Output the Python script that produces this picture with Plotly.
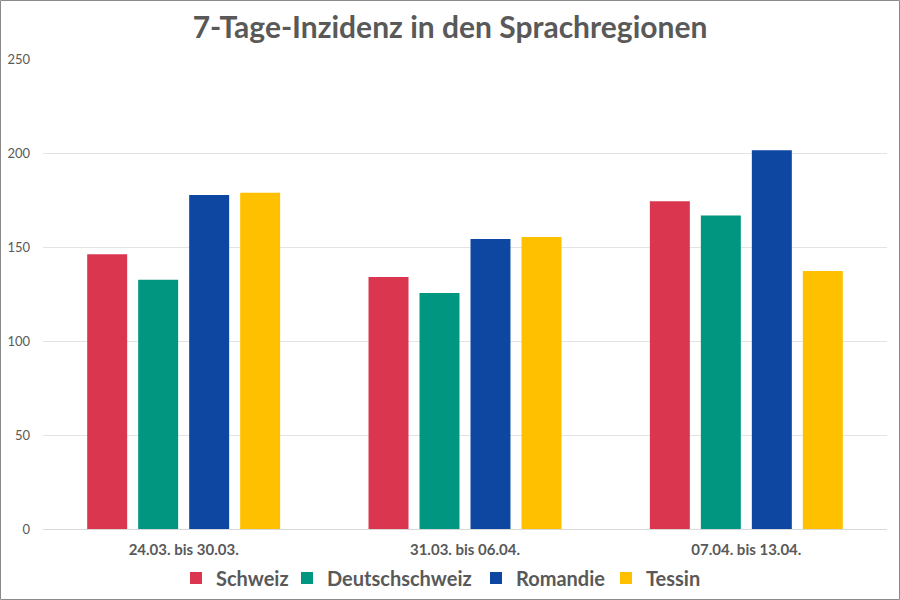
import plotly.graph_objects as go

categories = ["24.03. bis 30.03.", "31.03. bis 06.04.", "07.04. bis 13.04."]
series_names = ["Schweiz", "Deutschschweiz", "Romandie", "Tessin"]
schweiz = [146.1, 134.0, 174.4]
deutschschweiz = [132.6, 125.5, 166.8]
romandie = [177.6, 154.2, 201.4]
tessin = [178.9, 155.3, 137.2]
colors = ["#DA3650", "#00967F", "#0D47A1", "#FFC000"]
y_ticks = [0, 50, 100, 150, 200, 250]

W, H = 900, 600
ml, mr, mt, mb = 43, 13, 59, 71
pw, ph = W - ml - mr, H - mt - mb

legend_ids = ["legend", "legend2", "legend3", "legend4"]
legend_text_px = [216, 327, 516, 646]

fig = go.Figure()
for name, vals, col, lid in zip(series_names, [schweiz, deutschschweiz, romandie, tessin], colors, legend_ids):
    fig.add_trace(go.Bar(x=categories, y=vals, name=name, legend=lid,
                         marker=dict(color=col, line=dict(width=0))))

layout_legends = {}
for lid, tx in zip(legend_ids, legend_text_px):
    layout_legends[lid] = dict(
        orientation="h", x=(tx - 40 - ml) / pw, xanchor="left",
        y=-(578 - (H - mb)) / ph, yanchor="middle",
        font=dict(family="Lato", size=20, color="#595959", weight="bold"),
        bgcolor="rgba(0,0,0,0)", borderwidth=0,
    )

fig.update_layout(
    template="none",
    width=W, height=H,
    margin=dict(l=ml, r=mr, t=mt, b=mb, autoexpand=False),
    paper_bgcolor="white", plot_bgcolor="white",
    barmode="group", bargap=0.275, bargroupgap=0.216,
    title=dict(text="<b>7-Tage-Inzidenz in den Sprachregionen</b>", x=0.5, xanchor="center",
               y=1 - 27 / H, yanchor="middle",
               font=dict(family="Lato", size=30, color="#595959")),
    font=dict(family="Lato", color="#595959"),
    hovermode=False,
    xaxis=dict(range=[-0.5, 2.5], autorange=False, automargin=False,
               showgrid=False, showline=False, ticks="", zeroline=False,
               ticklabelstandoff=10, fixedrange=True,
               tickfont=dict(family="Lato", size=15, color="#595959", weight="bold")),
    yaxis=dict(range=[0, 250], autorange=False, automargin=False,
               tickvals=y_ticks, showgrid=True, gridcolor="#E3E3E3", gridwidth=1,
               zeroline=True, zerolinecolor="#D9D9D9", zerolinewidth=1, showline=False, ticks="",
               ticklabelstandoff=12, fixedrange=True,
               tickfont=dict(family="Lato", size=13, color="#595959")),
    showlegend=True,
    **layout_legends,
)

fig.add_shape(type="rect", xref="paper", yref="paper",
              x0=-(ml - 0.5) / pw, x1=1 + (mr - 0.5) / pw,
              y0=-(mb - 0.5) / ph, y1=1 + (mt - 0.5) / ph,
              line=dict(color="#8A8A8A", width=1), fillcolor="rgba(0,0,0,0)", layer="above")

fig.write_html(
    "out.html",
    config={"displayModeBar": False, "staticPlot": True},
    post_script=(
        "var s=document.documentElement.style;s.margin='0';s.padding='0';s.overflow='hidden';"
        "var b=document.body.style;b.margin='0';b.padding='0';b.overflow='hidden';"
    ),
)
